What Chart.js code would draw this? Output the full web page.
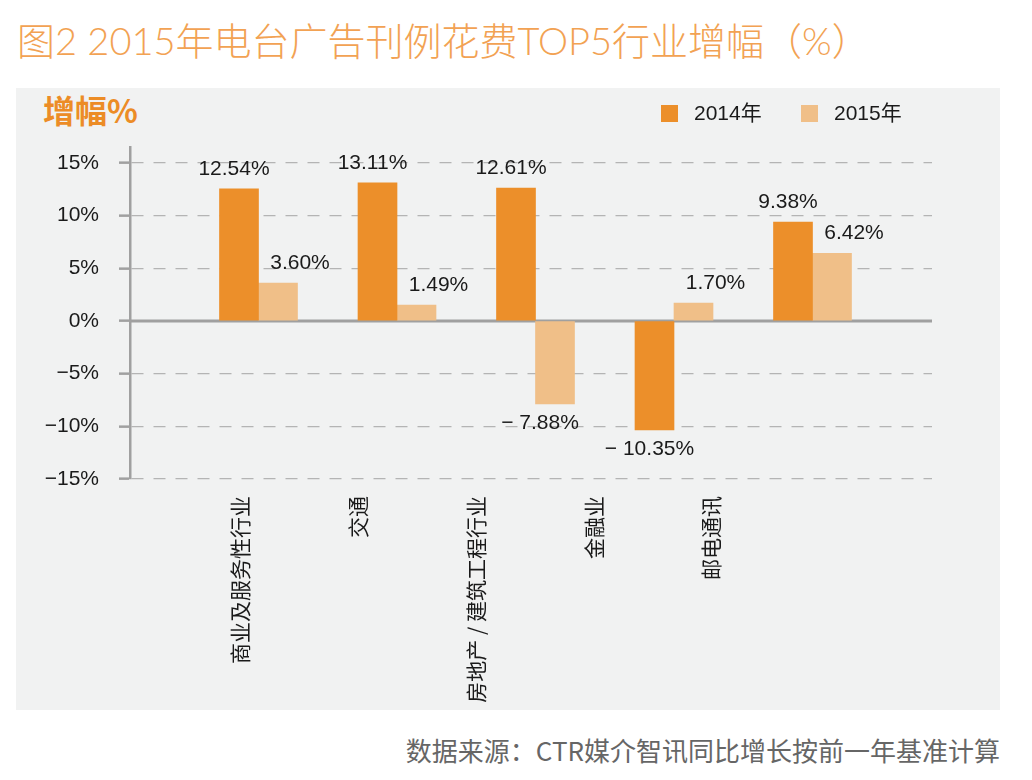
<!DOCTYPE html>
<html><head><meta charset="utf-8">
<script src="https://cdn.jsdelivr.net/npm/chart.js@4"></script>
<style>
html,body{margin:0;padding:0;background:#fff;width:1032px;height:780px;overflow:hidden;}
#panel{position:absolute;left:16px;top:88px;width:984px;height:622px;background:#f1f2f2;}
#title{position:absolute;left:17px;top:18px;font:300 38px "Lato","Noto Sans CJK SC";color:#f2a253;white-space:nowrap;line-height:1.2;}
#ylab{position:absolute;left:43px;top:90px;font:bold 32px "Noto Sans CJK SC";color:#ec8c26;white-space:nowrap;line-height:1.2;}
#foot{position:absolute;right:32px;top:734px;font:26px "Noto Sans CJK SC";color:#666;white-space:nowrap;line-height:1.2;}
#wrap{position:absolute;left:0;top:0;width:1032px;height:780px;}
</style></head><body>
<div id="panel"></div>
<div id="title">图2 2015年电台广告刊例花费TOP5行业增幅（%）</div>
<div id="ylab">增幅%</div>
<div id="foot">数据来源：CTR媒介智讯同比增长按前一年基准计算</div>
<div id="wrap"><canvas id="c"></canvas></div>
<script>
const categories = ['商业及服务性行业', '交通', '房地产 / 建筑工程行业', '金融业', '邮电通讯'];
const seriesNames = ['2014年', '2015年'];
const values2014 = [12.54, 13.11, 12.61, -10.35, 9.38];
const values2015 = [3.60, 1.49, -7.88, 1.70, 6.42];
const yTicks = [-15, -10, -5, 0, 5, 10, 15];

const colors = ['#ec8f2a', '#f0bf88'];
const labelDx = [[-5, -5], [22, -15]]; // [positive, negative] horizontal nudges per series

function fmtPct(v) {
  return v < 0 ? '\u2212 ' + Math.abs(v).toFixed(2) + '%' : v.toFixed(2) + '%';
}

const deco = {
  id: 'deco',
  beforeDatasetsDraw(chart) {
    const ctx = chart.ctx, y = chart.scales.y, a = chart.chartArea;
    const py = y.getPixelForValue(0);
    ctx.save();
    ctx.strokeStyle = '#a0a0a0';
    ctx.lineWidth = 3;
    ctx.beginPath();
    ctx.moveTo(a.left, py);
    ctx.lineTo(a.right, py);
    ctx.stroke();
    ctx.restore();
  },
  afterDatasetsDraw(chart) {
    const ctx = chart.ctx;
    ctx.save();
    ctx.font = '21px "Liberation Sans", "Noto Sans CJK SC"';
    ctx.fillStyle = '#1a1a1a';
    ctx.textAlign = 'center';
    ctx.textBaseline = 'middle';
    chart.data.datasets.forEach((ds, di) => {
      const meta = chart.getDatasetMeta(di);
      meta.data.forEach((bar, i) => {
        const v = ds.data[i].y;
        const neg = v < 0;
        const dx = labelDx[di][neg ? 1 : 0];
        const ty = neg ? bar.y + 19 : bar.y - 20;
        ctx.fillText(fmtPct(v), bar.x + dx, ty);
      });
    });
    // legend
    const lx = [661, 801];
    ctx.textAlign = 'left';
    chart.data.datasets.forEach((ds, i) => {
      ctx.fillStyle = ds.backgroundColor;
      ctx.fillRect(lx[i], 105, 17, 17);
      ctx.fillStyle = '#1a1a1a';
      ctx.fillText(ds.label, lx[i] + 33, 114);
    });
    ctx.restore();
  }
};

new Chart(document.getElementById('c'), {
  type: 'bar',
  data: {
    datasets: [
      { label: seriesNames[0], data: values2014.map((v, i) => ({ x: i, y: v })), backgroundColor: colors[0], barThickness: 39, xAxisID: 'x', yAxisID: 'y' },
      { label: seriesNames[1], data: values2015.map((v, i) => ({ x: i, y: v })), backgroundColor: colors[1], barThickness: 39, xAxisID: 'x', yAxisID: 'y' }
    ]
  },
  options: {
    responsive: true,
    maintainAspectRatio: false,
    animation: false,
    events: [],
    layout: { padding: { left: 0, top: 147, right: 100, bottom: 780 - 479 - 240 } },
    plugins: { legend: { display: false }, tooltip: { enabled: false }, title: { display: false } },
    scales: {
      x: { type: 'linear', display: false, min: -0.92777, max: 4.8628, offset: false },
      x2: {
        type: 'linear', position: 'bottom', min: -0.93634, max: 5.8719, offset: false,
        afterBuildTicks: s => { s.ticks = categories.map((c, i) => ({ value: i })); },
        afterFit: s => { s.height = 240; },
        ticks: {
          autoSkip: false, minRotation: 90, maxRotation: 90,
          callback: v => categories[v],
          font: { family: '"Noto Sans CJK SC"', size: 21 }, color: '#1a1a1a', padding: 17
        },
        grid: { display: false, drawTicks: false },
        border: { display: false }
      },
      y: {
        min: -15, max: 16.5,
        afterBuildTicks: s => { s.ticks = yTicks.map(v => ({ value: v })); },
        afterFit: s => { s.width = 130; },
        ticks: {
          callback: v => (v < 0 ? '\u2212' + Math.abs(v) : v) + '%',
          font: { family: '"Liberation Sans"', size: 21 }, color: '#1a1a1a', padding: 20
        },
        grid: { color: '#b4b4b4', lineWidth: 1.3, tickColor: '#a0a0a0', tickLength: 11, tickWidth: 2.5, tickBorderDash: [] },
        border: { color: '#a0a0a0', width: 2.5, dash: [12, 10] }
      }
    }
  },
  plugins: [deco]
});
</script>
</body></html>
